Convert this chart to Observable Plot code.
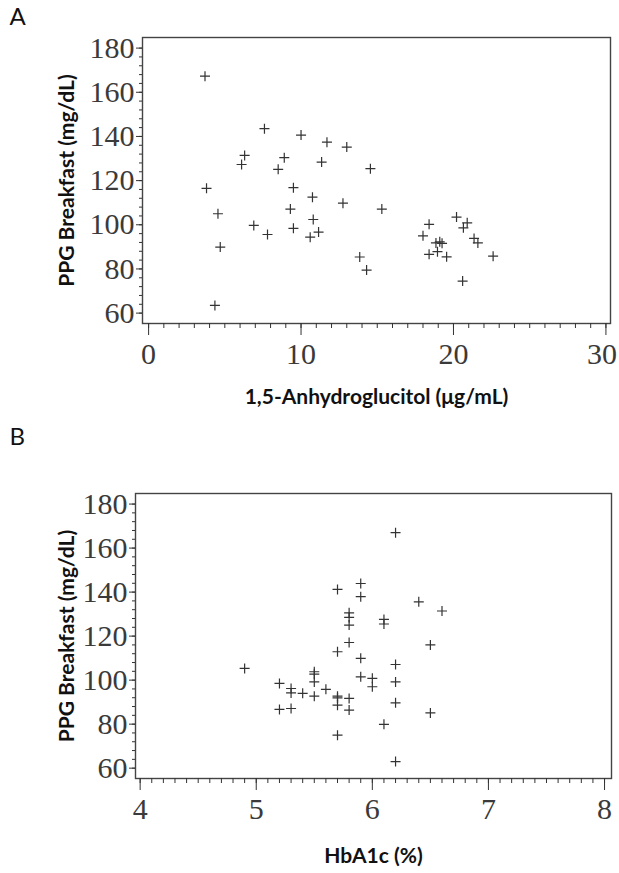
<!DOCTYPE html>
<html>
<head>
<meta charset="utf-8">
<script src="https://cdn.jsdelivr.net/npm/d3@7"></script>
<script src="https://cdn.jsdelivr.net/npm/@observablehq/plot@0.6"></script>
<style>
  html, body { margin: 0; padding: 0; background: #fff; }
  #chart { width: 619px; height: 873px; position: relative; }
  #chart svg { display: block; }
  #chart svg g[aria-label$="tick label"] text { font-family: "Liberation Serif", "DejaVu Serif", serif !important; }
</style>
</head>
<body>
<div id="chart"></div>
<script>
// Panel A: 1,5-Anhydroglucitol vs PPG Breakfast
const anhydroA = [3.7, 7.6, 10.0, 11.7, 13.0, 6.3, 6.1, 8.9, 8.5, 11.35, 14.55,
  3.8, 4.55, 4.7, 4.35, 6.9, 7.8, 9.5, 9.3, 9.5, 10.75, 10.8, 10.6, 11.15, 12.75,
  13.85, 14.3, 15.3, 18.4, 18.0, 20.2, 20.9, 20.65, 18.85, 19.25, 18.95, 18.4,
  19.55, 21.35, 21.6, 22.6, 20.6, 19.1];
const ppgA = [167.3, 143.5, 140.6, 137.4, 135.2, 131.4, 127.3, 130.4, 125.1, 128.4, 125.4,
  116.5, 105.0, 89.9, 63.5, 99.7, 95.6, 116.8, 107.1, 98.4, 112.5, 102.4, 94.4, 96.7, 109.8,
  85.4, 79.5, 107.1, 100.2, 95.0, 103.5, 100.9, 98.6, 91.8, 91.6, 87.8, 86.6,
  85.5, 93.8, 91.8, 85.8, 74.5, 92.3];

// Panel B: HbA1c vs PPG Breakfast
const hba1cB = [5.7, 5.9, 5.9, 6.4, 5.8, 5.8, 5.8, 6.1, 6.1, 6.5, 5.8, 5.7, 5.9, 6.2,
  4.9, 5.5, 5.5, 5.5, 5.9, 6.0, 6.0, 6.2, 5.2, 5.3, 5.3, 5.4, 5.6, 5.5, 5.7, 5.7,
  5.7, 5.8, 5.8, 6.2, 5.2, 5.3, 6.1, 5.7, 6.5, 6.6, 6.2, 6.2];
const ppgB = [141.2, 143.9, 137.9, 135.6, 130.6, 128.5, 125.0, 127.6, 125.5, 116.0, 117.1, 112.9, 109.9, 107.1,
  105.3, 103.8, 102.7, 99.2, 101.5, 100.8, 97.0, 99.2, 98.5, 96.2, 94.2, 94.0, 95.8, 92.7, 92.7, 91.9,
  88.6, 91.7, 86.4, 89.7, 86.7, 87.1, 79.9, 75.0, 85.1, 131.4, 167.0, 63.0];

const yTicks = [60, 80, 100, 120, 140, 160, 180];
const xTicksA = [0, 10, 20, 30];
const xTicksB = [4, 5, 6, 7, 8];

const yLabel = "PPG Breakfast (mg/dL)";
const xLabelA = "1,5-Anhydroglucitol (μg/mL)";
const xLabelB = "HbA1c (%)";
const panelLetters = ["A", "B"];

const ink = "#333";
const serif = "Liberation Serif";
const sans = "Lato";

const plusSymbol = {
  draw(context, size) {
    const r = Math.sqrt(size / Math.PI);
    context.moveTo(-r, 0); context.lineTo(r, 0);
    context.moveTo(0, -r); context.lineTo(0, r);
  }
};

function panel({xs, ys, xDomain, xTicks, xMinor, xLabel, letter, height, mTop, mBottom, mLeft, mRight, yLabelX, xLabelDy, lastShift}) {
  const pts = xs.map((x, i) => ({x, y: ys[i]}));
  const last = xTicks[xTicks.length - 1];
  const labelOpts = {tickPadding: 7, fontSize: 30, fontFamily: serif, label: null, stroke: ink, fill: "#3a3a3a"};
  const svg = Plot.plot({
    width: 619,
    height,
    marginTop: mTop,
    marginBottom: mBottom,
    marginLeft: mLeft,
    marginRight: mRight,
    style: {color: ink, background: "white", overflow: "visible"},
    x: {domain: xDomain},
    y: {domain: [55.3, 184.8]},
    marks: [
      Plot.frame({stroke: "#444", strokeWidth: 1.4}),
      Plot.axisY(d3.range(60, 181, 4), {tickSize: 3, tickFormat: () => "", label: null, stroke: ink}),
      Plot.axisY(yTicks, {tickSize: 6, tickPadding: 2, fontSize: 30, fontFamily: serif, tickFormat: d => String(d), label: null, stroke: ink, fill: "#3a3a3a"}),
      Plot.axisX(xMinor, {tickSize: 5, tickFormat: () => "", label: null, stroke: ink}),
      Plot.axisX(xTicks, {...labelOpts, tickSize: 12, tickFormat: d => (d === last && lastShift ? "" : String(d))}),
      lastShift ? Plot.axisX([last], {...labelOpts, tickSize: 0, tickPadding: 19, dx: -lastShift, tickFormat: d => String(d)}) : null,
      Plot.dot(pts, {x: "x", y: "y", symbol: plusSymbol, r: 5, stroke: ink, strokeWidth: 1.2, fill: "none"}),
      Plot.text([yLabel], {frameAnchor: "left", dx: yLabelX - mLeft, rotate: -90, textAnchor: "middle", lineAnchor: "middle", fontFamily: sans, fontWeight: "bold", fontSize: 21, fill: "#111"}),
      Plot.text([xLabel], {frameAnchor: "bottom", dy: xLabelDy, textAnchor: "middle", lineAnchor: "middle", fontFamily: sans, fontWeight: "bold", fontSize: 21, fill: "#111"}),
      Plot.text([letter], {frameAnchor: "top-left", dx: -mLeft + 9, dy: -mTop + 7, textAnchor: "start", lineAnchor: "top", fontFamily: sans, fontSize: 24, fill: "#111"})
    ]
  });
  // make sure tick labels use the serif face of the original figure
  d3.select(svg).selectAll("g[aria-label$='tick label'] text").style("font-family", "'Liberation Serif', 'DejaVu Serif', serif");
  return svg;
}

const chart = document.getElementById("chart");
chart.appendChild(panel({
  xs: anhydroA, ys: ppgA, xDomain: [-0.4, 30.3], xTicks: xTicksA, xMinor: d3.range(0, 31, 1),
  xLabel: xLabelA, letter: panelLetters[0], height: 420, mTop: 37, mBottom: 97, mLeft: 142, mRight: 9, yLabelX: 67, xLabelDy: 74, lastShift: 4
}));
chart.appendChild(panel({
  xs: hba1cB, ys: ppgB, xDomain: [3.96, 8.06], xTicks: xTicksB, xMinor: d3.range(40, 81, 1).map(d => d / 10),
  xLabel: xLabelB, letter: panelLetters[1], height: 453, mTop: 73, mBottom: 95, mLeft: 135, mRight: 8, yLabelX: 67, xLabelDy: 78, lastShift: 0
}));
</script>
</body>
</html>
